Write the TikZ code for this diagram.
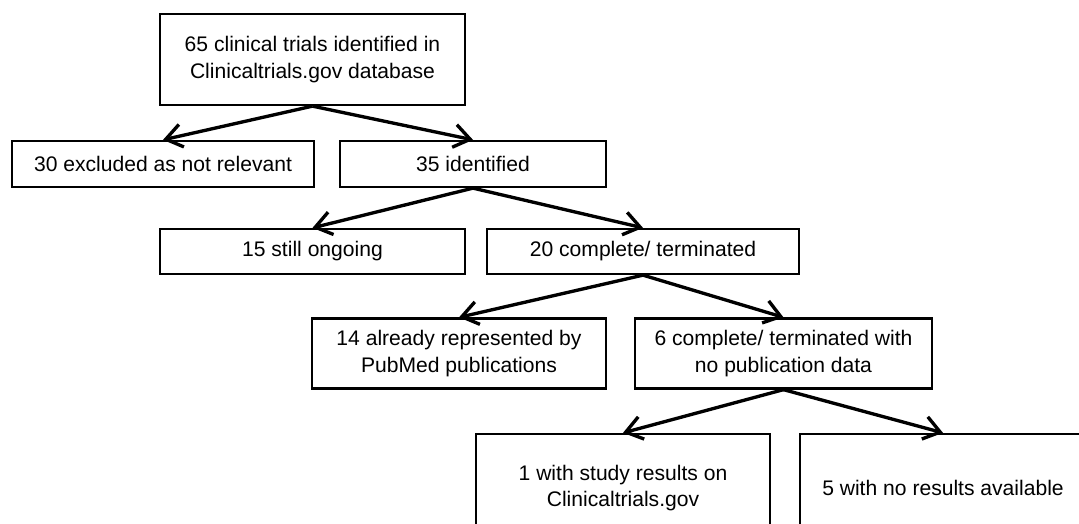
\documentclass[tikz,border=0pt]{standalone}
\usepackage{fontspec}
\setmainfont{Liberation Sans}
\usetikzlibrary{arrows.meta}

\begin{document}
\begin{tikzpicture}[
  box/.style={draw, line width=1.3pt, align=center, inner sep=0pt,
    font=\fontsize{12pt}{15.3pt}\selectfont},
  flow/.style={line width=1.9pt, -{Straight Barb[length=3.2mm,width=4.6mm,line width=1.9pt]}}]
  \clip (0,0) rectangle (21.58,-10.48);
  \node (all) [box, minimum width=6.1cm, minimum height=1.82cm] at (6.25,-1.19) {65 clinical trials identified in\\Clinicaltrials.gov database};
  \node (excl) [box, minimum width=6.04cm, minimum height=0.92cm] at (3.26,-3.28) {30 excluded as not relevant};
  \node (ident) [box, minimum width=5.32cm, minimum height=0.92cm] at (9.46,-3.28) {35 identified};
  \node (ongo) [box, minimum width=6.1cm, minimum height=0.9cm] at (6.25,-5.03) {15 still ongoing};
  \node (compl) [box, minimum width=6.24cm, minimum height=0.9cm] at (12.86,-5.03) {20 complete/ terminated};
  \node (pubmed) [box, minimum width=5.88cm, minimum height=1.4cm] at (9.18,-7.07) {14 already represented by\\PubMed publications};
  \node (nopub) [box, minimum width=5.94cm, minimum height=1.4cm] at (15.67,-7.07) {6 complete/ terminated with\\no publication data};
  \node (res) [box, minimum width=5.88cm, minimum height=2.16cm] at (12.46,-9.76) {1 with study results on\\Clinicaltrials.gov};
  \node (nores) [box, minimum width=5.72cm, minimum height=2.16cm] at (18.86,-9.76) {5 with no results available};
  \draw[flow] (all.south) -- (excl.north);
  \draw[flow] (all.south) -- (ident.north);
  \draw[flow] (ident.south) -- (ongo.north);
  \draw[flow] (ident.south) -- (compl.north);
  \draw[flow] (compl.south) -- (pubmed.north);
  \draw[flow] (compl.south) -- (nopub.north);
  \draw[flow] (nopub.south) -- (res.north);
  \draw[flow] (nopub.south) -- (nores.north);
\end{tikzpicture}
\end{document}
